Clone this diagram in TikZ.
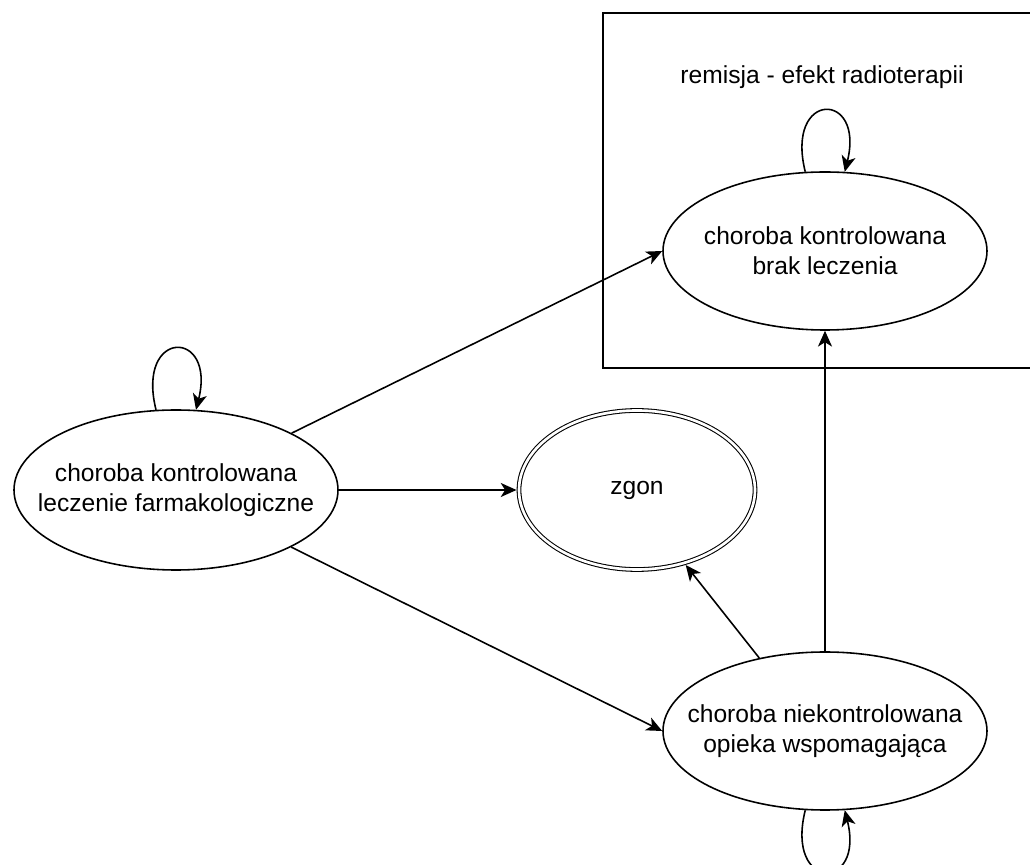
\documentclass[tikz,border=0pt]{standalone}
\usepackage{fontspec}
\setmainfont{Liberation Sans}
\usepackage{tikz}
\usetikzlibrary{automata, arrows.meta, shapes.geometric}

\begin{document}
\begin{tikzpicture}[
    >={Stealth[length=9pt,width=8pt,inset=2.5pt]},
    line width=0.9pt,
    every node/.style={font=\fontsize{14}{17}\selectfont},
    stan/.style={ellipse, draw, align=center, inner xsep=-0.7cm, inner ysep=0pt, minimum width=6.48cm, minimum height=3.16cm},
    koniec/.style={stan, double, double distance=1.5pt, line width=0.6pt, minimum width=4.72cm, minimum height=3.18cm, outer sep=1.4pt},
    petla/.style={min distance=1.68cm}
]
    \clip (0,0) rectangle (20.6,-17.3);
    \node[stan, minimum height=3.2cm](1)    at (3.52,-9.80) {choroba kontrolowana\\leczenie farmakologiczne};
    \node[stan](2)                          at (16.5,-5.02) {choroba kontrolowana\\brak leczenia};
    \node[koniec](3)                        at (12.74,-9.80) {zgon};
    \node[stan](4)                          at (16.5,-14.62) {choroba niekontrolowana\\opieka wspomagająca};
    \node(opis)                             at (16.44,-1.54) {remisja - efekt radioterapii};
    \draw (12.06,-0.26) rectangle (20.7,-7.36);
    \path
        (1)
            edge [->, loop above, out=104, in=76, petla] (1)
            edge [->] (2.west)
            edge [->] (3)
            edge [->] (4.west)
        (2)
            edge [->, loop above, out=104, in=76, petla] (2)
        (4)
            edge [->, loop below, out=256, in=284, petla] (4)
            edge [->] (2)
        (4.132)
            edge [->] (3.-57)
        ;
\end{tikzpicture}
\end{document}
